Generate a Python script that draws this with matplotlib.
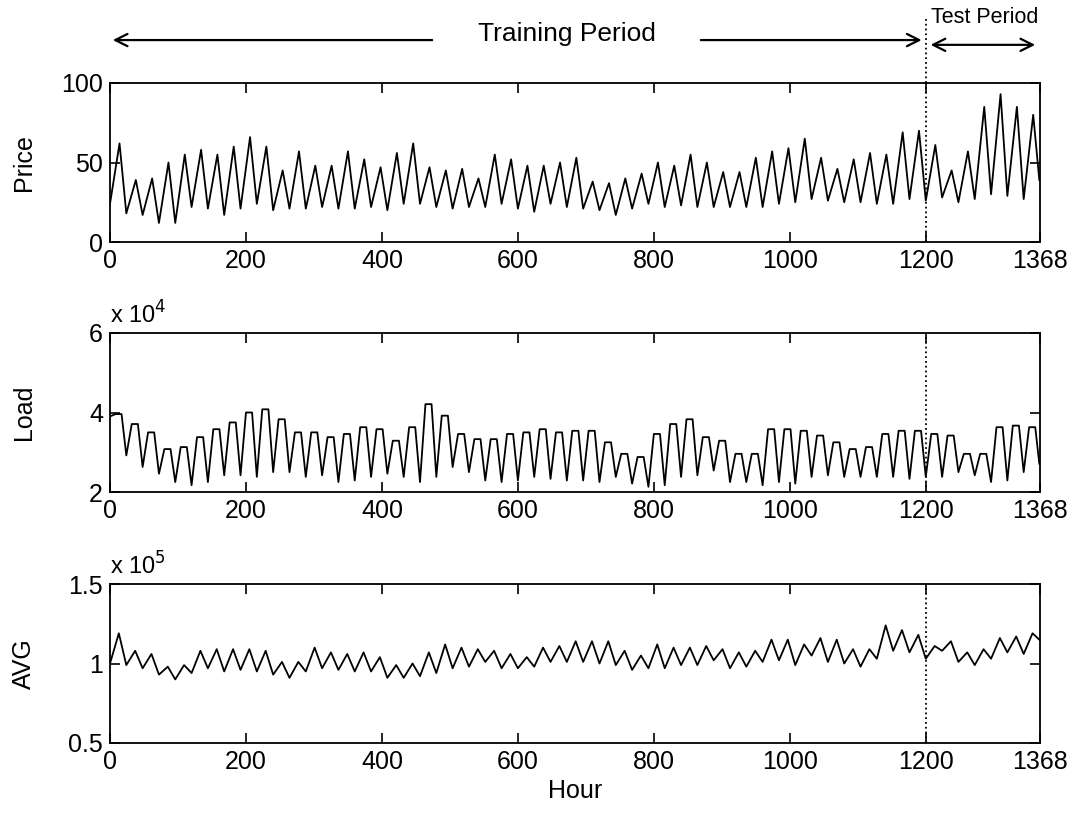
import numpy as np
import matplotlib.pyplot as plt

plt.rcParams['font.family'] = ['Liberation Sans', 'DejaVu Sans']

# daily troughs / peaks (57 days, 1368 hours)
price_low = [24, 18, 17, 12, 12, 22, 21, 17, 21, 24, 20, 21, 21, 22, 21, 21, 22, 20, 24,
             24, 22, 21, 22, 22, 24, 21, 19, 24, 22, 21, 20, 17, 21, 24, 22, 23, 22, 22,
             22, 22, 22, 24, 25, 27, 26, 25, 25, 24, 24, 27, 26, 28, 25, 27, 30, 29, 27]
price_high = [62, 39, 40, 50, 55, 58, 55, 60, 66, 60, 45, 57, 48, 48, 57, 52, 47, 56, 62,
              47, 45, 46, 40, 55, 52, 48, 48, 50, 53, 38, 37, 40, 43, 50, 48, 55, 50, 44,
              44, 53, 57, 59, 65, 53, 46, 52, 56, 55, 69, 70, 61, 45, 57, 85, 93, 85, 80]
price_end = 39

# load in units of 1e4
load_low = [3.90, 2.92, 2.63, 2.46, 2.25, 2.17, 2.25, 2.42, 2.42, 2.38, 2.50, 2.50, 2.38, 2.42,
            2.25, 2.29, 2.38, 2.46, 2.38, 2.25, 2.38, 2.63, 2.50, 2.29, 2.25, 2.29, 2.38, 2.33,
            2.29, 2.29, 2.25, 2.38, 2.21, 2.13, 2.17, 2.38, 2.42, 2.54, 2.25, 2.25, 2.17, 2.25,
            2.21, 2.38, 2.42, 2.38, 2.38, 2.38, 2.38, 2.33, 2.38, 2.38, 2.50, 2.42, 2.25, 2.29, 2.50]
load_high = [3.96, 3.71, 3.50, 3.08, 3.13, 3.38, 3.58, 3.75, 4.00, 4.08, 3.83, 3.50, 3.50, 3.38,
             3.46, 3.63, 3.58, 3.29, 3.63, 4.21, 3.92, 3.46, 3.33, 3.33, 3.46, 3.50, 3.58, 3.50,
             3.54, 3.54, 3.25, 2.96, 2.88, 3.46, 3.71, 3.83, 3.38, 3.29, 2.96, 2.96, 3.58, 3.58,
             3.54, 3.42, 3.25, 3.08, 3.13, 3.46, 3.54, 3.54, 3.46, 3.42, 2.96, 2.96, 3.63, 3.67, 3.63]
load_end = 2.71

# AVG in units of 1e5
avg_low = [1.00, 0.99, 0.97, 0.93, 0.90, 0.94, 0.97, 0.95, 0.96, 0.95, 0.93, 0.91, 0.95, 0.97,
           0.96, 0.95, 0.95, 0.91, 0.91, 0.92, 0.94, 0.97, 0.98, 1.01, 0.97, 0.97, 0.98, 1.01,
           1.01, 1.01, 1.00, 0.99, 0.96, 0.97, 0.97, 0.99, 0.99, 1.02, 0.97, 0.98, 1.01, 1.02,
           0.99, 1.05, 1.01, 1.00, 0.98, 1.03, 1.08, 1.07, 1.03, 1.08, 1.01, 0.99, 1.03, 1.07, 1.06]
avg_high = [1.19, 1.08, 1.06, 0.98, 0.99, 1.08, 1.09, 1.09, 1.09, 1.08, 1.01, 1.01, 1.10, 1.07,
            1.06, 1.07, 1.04, 0.99, 1.00, 1.07, 1.12, 1.10, 1.09, 1.08, 1.06, 1.04, 1.10, 1.11,
            1.14, 1.14, 1.14, 1.08, 1.05, 1.12, 1.10, 1.10, 1.11, 1.09, 1.07, 1.08, 1.15, 1.15,
            1.12, 1.16, 1.15, 1.09, 1.09, 1.24, 1.21, 1.18, 1.11, 1.14, 1.07, 1.09, 1.16, 1.17, 1.19]
avg_end = 1.15

n_hours = 1368
split_hour = 1200
xticks = [0, 200, 400, 600, 800, 1000, 1200, 1368]

days = np.arange(len(price_low))


def zigzag(low, high, end, peak_offsets):
    # trough at start of each day, peak(s) later in the day
    xs, ys = [], []
    for d in days:
        xs.append(d * 24)
        ys.append(low[d])
        for off in peak_offsets:
            xs.append(d * 24 + off)
            ys.append(high[d])
    xs.append(n_hours - 1)
    ys.append(end)
    return xs, ys


fig = plt.figure(figsize=(10.74, 8.14), dpi=100)
left, width, height = 110 / 1074, 930 / 1074, 159 / 814
bottoms = [1 - 242 / 814, 1 - 492 / 814, 1 - 743 / 814]

panels = [
    ('Price', zigzag(price_low, price_high, price_end, [14]), (0, 100), [0, 50, 100], None),
    ('Load', zigzag(load_low, load_high, load_end, [8, 17]), (2, 6), [2, 4, 6], '4'),
    ('AVG', zigzag(avg_low, avg_high, avg_end, [13]), (0.5, 1.5), [0.5, 1, 1.5], '5'),
]

axes = []
for (name, (xs, ys), ylim, yticks, expo), b in zip(panels, bottoms):
    ax = fig.add_axes([left, b, width, height])
    ax.plot(xs, ys, color='black', lw=1.3)
    ax.axvline(split_hour, color='black', ls=':', lw=1.3)
    ax.set_xlim(0, n_hours)
    ax.set_ylim(*ylim)
    ax.set_xticks(xticks)
    ax.set_yticks(yticks)
    ax.set_yticklabels([f'{t:g}' for t in yticks])
    ax.tick_params(direction='in', length=7, width=1.2, labelsize=18,
                   top=True, right=True, pad=5)
    ax.set_ylabel(name, fontsize=18)
    ax.yaxis.set_label_coords(-0.08, 0.5)
    for s in ax.spines.values():
        s.set_linewidth(1.3)
    if expo:
        ax.text(0, 1.03, 'x 10$^{' + expo + '}$', transform=ax.transAxes,
                fontsize=17, ha='left', va='bottom')
    axes.append(ax)

axes[-1].set_xlabel('Hour', fontsize=18, labelpad=4)

# period annotations above the first panel
top = axes[0]
tr = top.get_xaxis_transform()
top.plot([split_hour, split_hour], [1, 1.4], color='black', ls=':', lw=1.3,
         transform=tr, clip_on=False)
arrow = dict(arrowstyle='->', color='black', lw=1.6, mutation_scale=22)
top.annotate('', xy=(0, 1.27), xytext=(478, 1.27), xycoords=tr, textcoords=tr,
             arrowprops=arrow)
top.annotate('', xy=(1198, 1.27), xytext=(865, 1.27), xycoords=tr, textcoords=tr,
             arrowprops=arrow)
top.annotate('', xy=(n_hours - 3, 1.24), xytext=(1203, 1.24), xycoords=tr, textcoords=tr,
             arrowprops=dict(arrowstyle='<->', color='black', lw=1.6, mutation_scale=22))
top.text(672, 1.31, 'Training Period', transform=tr, fontsize=19, ha='center', va='center')
top.text(1287, 1.41, 'Test Period', transform=tr, fontsize=15.5, ha='center', va='center')

fig.savefig('out.png', dpi=100)
